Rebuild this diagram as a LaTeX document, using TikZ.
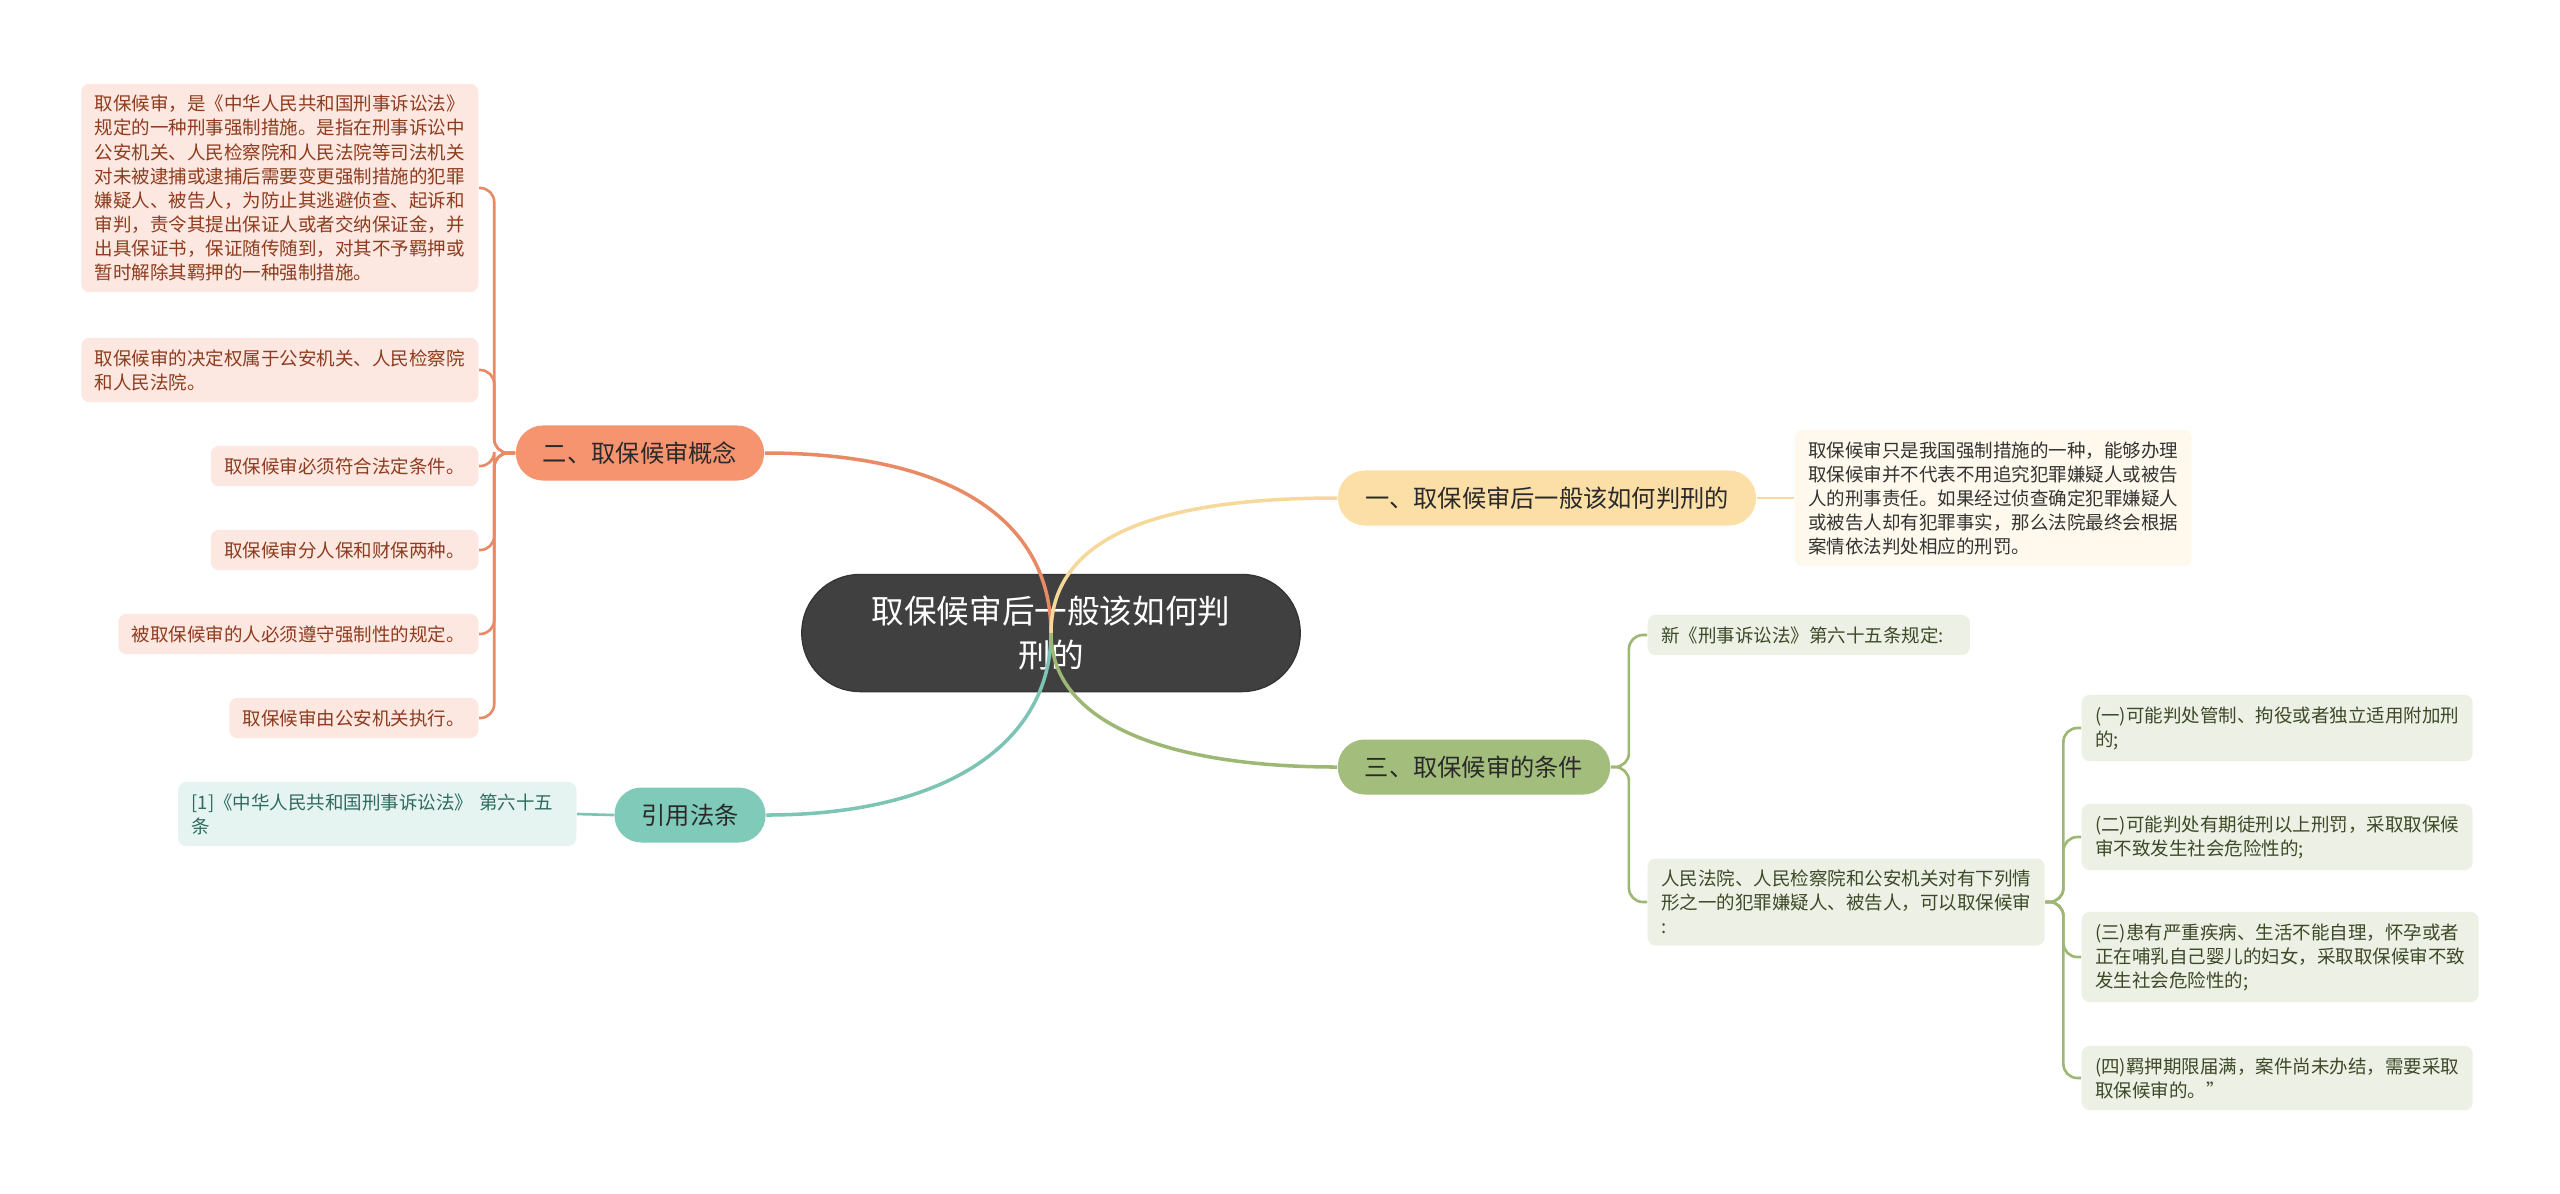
\documentclass[tikz,border=0pt]{standalone}
\usepackage{fontspec}
\setmainfont{Noto Sans CJK SC}

\definecolor{rootfill}{HTML}{404040}
\definecolor{rootline}{HTML}{353535}
\definecolor{topictext}{HTML}{2A2A2A}
\definecolor{conceptfill}{HTML}{F6946F}
\definecolor{conceptline}{HTML}{E88A66}
\definecolor{conceptleaf}{HTML}{FDE8E1}
\definecolor{concepttext}{HTML}{8E3B1E}
\definecolor{judgefill}{HTML}{FCDFA6}
\definecolor{judgeline}{HTML}{F6D89A}
\definecolor{judgeleaf}{HTML}{FEF9EC}
\definecolor{judgetext}{HTML}{333333}
\definecolor{citefill}{HTML}{7FCAB9}
\definecolor{citeline}{HTML}{7CC4B3}
\definecolor{citeleaf}{HTML}{E5F4F1}
\definecolor{citetext}{HTML}{2F6B5F}
\definecolor{condfill}{HTML}{A3BD7C}
\definecolor{condline}{HTML}{9DB874}
\definecolor{condleaf}{HTML}{EDF0E5}
\definecolor{condtext}{HTML}{3C4A28}

\begin{document}
\begin{tikzpicture}[x=0.01cm, y=-0.01cm,
    root/.style={rounded corners=0.58cm, fill=rootfill, draw=rootline, text=white, align=center,
        minimum width=4.98cm, minimum height=1.17cm, font=\fontsize{9.27}{12.5}\selectfont},
    topic/.style={rounded corners=0.27cm, minimum height=0.55cm, inner xsep=0.27cm, text=topictext,
        font=\fontsize{6.9}{8}\selectfont},
    leaf/.style={rounded corners=0.08cm, inner xsep=0.135cm, inner ysep=0.115cm, align=left,
        font=\fontsize{5.26}{6.83}\selectfont},
    mainline/.style={line width=1pt},
    subline/.style={line width=0.75pt, rounded corners=0.14cm}]
    \fill[white] (0,0) rectangle (2560,1193);
    \useasboundingbox (0,0) rectangle (2560,1193);
    % Root
    \node[root] (root) at (1051,633) {取保候审后一般该如何判\\刑的};
    % Topics
    \node[topic, fill=conceptfill, minimum width=2.45cm] (concept) at (640,453) {二、取保候审概念};
    \node[topic, fill=judgefill] (judge) at (1547,498) {一、取保候审后一般该如何判刑的};
    \node[topic, fill=condfill] (cond) at (1474,767) {三、取保候审的条件};
    \node[topic, fill=citefill] (cite) at (690,815) {引用法条};
    % Concept leaves
    \node[leaf, fill=conceptleaf, text=concepttext, anchor=east] (cdef) at (479,188)
        {取保候审，是《中华人民共和国刑事诉讼法》\\规定的一种刑事强制措施。是指在刑事诉讼中\\公安机关、人民检察院和人民法院等司法机关\\对未被逮捕或逮捕后需要变更强制措施的犯罪\\嫌疑人、被告人，为防止其逃避侦查、起诉和\\审判，责令其提出保证人或者交纳保证金，并\\出具保证书，保证随传随到，对其不予羁押或\\暂时解除其羁押的一种强制措施。};
    \node[leaf, fill=conceptleaf, text=concepttext, anchor=east] (cpower) at (479,370)
        {取保候审的决定权属于公安机关、人民检察院\\和人民法院。};
    \node[leaf, fill=conceptleaf, text=concepttext, anchor=east] (clegal) at (479,466) {取保候审必须符合法定条件。};
    \node[leaf, fill=conceptleaf, text=concepttext, anchor=east] (ctype) at (479,550) {取保候审分人保和财保两种。};
    \node[leaf, fill=conceptleaf, text=concepttext, anchor=east] (cobey) at (479,634) {被取保候审的人必须遵守强制性的规定。};
    \node[leaf, fill=conceptleaf, text=concepttext, anchor=east] (cexec) at (479,718) {取保候审由公安机关执行。};
    % Judge note
    \node[leaf, fill=judgeleaf, text=judgetext, anchor=west] (jnote) at (1794,498)
        {取保候审只是我国强制措施的一种，能够办理\\取保候审并不代表不用追究犯罪嫌疑人或被告\\人的刑事责任。如果经过侦查确定犯罪嫌疑人\\或被告人却有犯罪事实，那么法院最终会根据\\案情依法判处相应的刑罚。};
    % Citation
    \node[leaf, fill=citeleaf, text=citetext, anchor=east, text width=3.71cm] (clause) at (577,814)
        {[1]《中华人民共和国刑事诉讼法》 第六十五\\条};
    % Conditions
    \node[leaf, fill=condleaf, text=condtext, anchor=west, text width=2.95cm] (law) at (1647,635) {新《刑事诉讼法》第六十五条规定:};
    \node[leaf, fill=condleaf, text=condtext, anchor=west] (cases) at (1647,902)
        {人民法院、人民检察院和公安机关对有下列情\\形之一的犯罪嫌疑人、被告人，可以取保候审\\:};
    \node[leaf, fill=condleaf, text=condtext, anchor=west] (caseA) at (2081,728)
        {(一)可能判处管制、拘役或者独立适用附加刑\\的;};
    \node[leaf, fill=condleaf, text=condtext, anchor=west] (caseB) at (2081,837)
        {(二)可能判处有期徒刑以上刑罚，采取取保候\\审不致发生社会危险性的;};
    \node[leaf, fill=condleaf, text=condtext, anchor=west] (caseC) at (2081,957)
        {(三)患有严重疾病、生活不能自理，怀孕或者\\正在哺乳自己婴儿的妇女，采取取保候审不致\\发生社会危险性的;};
    \node[leaf, fill=condleaf, text=condtext, anchor=west] (caseD) at (2081,1078)
        {(四)羁押期限届满，案件尚未办结，需要采取\\取保候审的。”};
    % Root branches
    \draw[mainline, conceptline] (root.center) .. controls +(0,-113) and +(186,0) .. (concept.east);
    \draw[mainline, judgeline] (root.center) .. controls +(0,-93) and +(-187,0) .. (judge.west);
    \draw[mainline, citeline] (root.center) .. controls +(0,107) and +(184,0) .. (cite.east);
    \draw[mainline, condline] (root.center) .. controls +(0,87) and +(-177,0) .. (cond.west);
    % Concept branch
    \draw[subline, conceptline] (concept.west) -- ++(-21,0) |- (cdef.east);
    \draw[subline, conceptline] (concept.west) -- ++(-21,0) |- (cpower.east);
    \draw[subline, conceptline] (concept.west) -- ++(-21,0) |- (clegal.east);
    \draw[subline, conceptline] (concept.west) -- ++(-21,0) |- (ctype.east);
    \draw[subline, conceptline] (concept.west) -- ++(-21,0) |- (cobey.east);
    \draw[subline, conceptline] (concept.west) -- ++(-21,0) |- (cexec.east);
    % Judge and citation
    \draw[subline, judgeline] (judge.east) -- (jnote.west);
    \draw[subline, citeline] (cite.west) -- (clause.east);
    % Condition branch
    \draw[subline, condline] (cond.east) -- ++(18,0) |- (law.west);
    \draw[subline, condline] (cond.east) -- ++(18,0) |- (cases.west);
    \draw[subline, condline] (cases.east) -- ++(18,0) |- (caseA.west);
    \draw[subline, condline] (cases.east) -- ++(18,0) |- (caseB.west);
    \draw[subline, condline] (cases.east) -- ++(18,0) |- (caseC.west);
    \draw[subline, condline] (cases.east) -- ++(18,0) |- (caseD.west);
\end{tikzpicture}
\end{document}
